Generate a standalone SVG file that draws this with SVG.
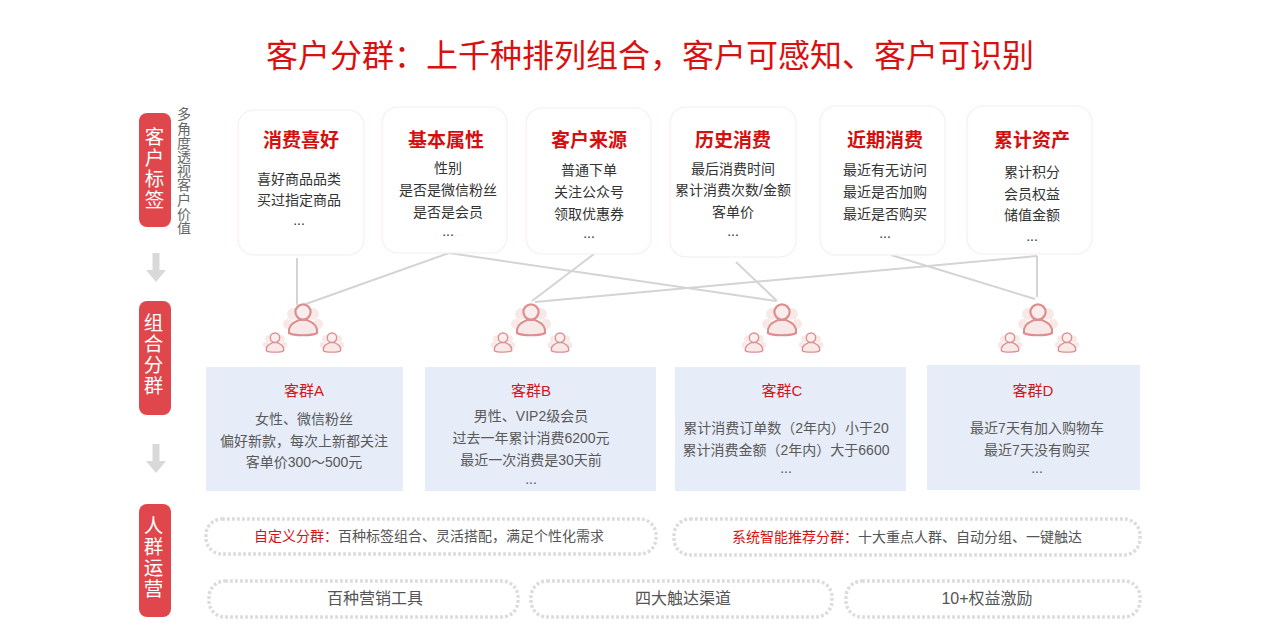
<svg xmlns="http://www.w3.org/2000/svg" width="1280" height="638" viewBox="0 0 1280 638">
<style>
text{font-family:"Liberation Sans","Noto Sans CJK SC",sans-serif;text-anchor:middle}
.title{font-size:32px;fill:#d9100f}
.side{font-size:19.5px;fill:#fff;writing-mode:vertical-rl;text-orientation:upright;letter-spacing:1.6px}
.note{font-size:14px;fill:#666;writing-mode:vertical-rl;text-orientation:upright;letter-spacing:.2px}
.card{fill:#fff;stroke:#f8eeee;stroke-width:1.2}
.head{font-size:19px;font-weight:700;fill:#d40f10}
.body{font-size:14px;fill:#333}
.seg{fill:#e6ecf8}
.segname{font-size:15px;fill:#d3171a}
.segbody{font-size:14px;fill:#595959}
.pill{fill:#fff;stroke:#dcdcdc;stroke-width:3.4;stroke-dasharray:2.8 2.2}
.pilltext{font-size:14px;fill:#555}
.pillbig{font-size:16px;fill:#555}
.red{fill:#d9100f}
.bar{fill:#e0474c}
.link{fill:none;stroke:#d4d4d4;stroke-width:2}
.arrow{fill:#d9d9d9}
</style>
<defs>
<g id="person">
<circle cx="-10" cy="-5" r="6" fill="#f8e9e9"/><circle cx="10" cy="-5" r="6" fill="#f8e9e9"/>
<circle cx="-15" cy="5" r="5" fill="#f8e9e9"/><circle cx="15" cy="5" r="5" fill="#f8e9e9"/>
<path d="M-14 14C-15 6-9 3-4 1H4C9 3 15 6 14 14C10 17-10 17-14 14Z" fill="#f8e8e8" stroke="#dc8f8f" stroke-width="2.2"/>
<circle cx="0" cy="-7" r="7.6" fill="#f9eded" stroke="#dc8f8f" stroke-width="2.2"/>
</g>
<g id="crowd">
<use href="#person"/>
<use href="#person" transform="translate(-28 23) scale(.62)"/>
<use href="#person" transform="translate(29 23) scale(.62)"/>
</g>
<path id="down" d="M-3.5 0H3.5V17H10L0 29L-10 17H-3.5Z"/>
</defs>

<text class="title" x="650" y="67">客户分群：上千种排列组合，客户可感知、客户可识别</text>

<g id="connectors">
<path class="link" d="M297 258V305"/>
<path class="link" d="M449 253L303 305"/>
<path class="link" d="M449 253L776 301"/>
<path class="link" d="M594 254L532 301"/>
<path class="link" d="M1037 256L535 302"/>
<path class="link" d="M736 262L777 301"/>
<path class="link" d="M891 255L1035 299"/>
<path class="link" d="M1037 256V297"/>
</g>

<g id="step-tags">
<rect class="bar" x="139" y="113" width="32" height="114" rx="8"/>
<text class="side" x="153" y="169">客户标签</text>
</g>
<g id="step-tags-note">
<text class="note" x="183" y="171">多角度透视客户价值</text>
</g>
<g id="step-group">
<rect class="bar" x="139" y="301" width="32" height="114" rx="8"/>
<text class="side" x="152" y="355">组合分群</text>
</g>
<g id="step-ops">
<rect class="bar" x="139" y="504" width="32" height="113" rx="8"/>
<text class="side" x="152" y="558">人群运营</text>
</g>
<g id="arrow-1"><use class="arrow" href="#down" x="156" y="253"/></g>
<g id="arrow-2"><use class="arrow" href="#down" x="156" y="444"/></g>

<g id="card-preference">
<rect class="card" x="238" y="110" width="126" height="145" rx="16"/>
<text class="head" x="301" y="147">消费喜好</text>
<text class="body" x="299" y="184">喜好商品品类</text><text class="body" x="299" y="205">买过指定商品</text><text class="body" x="299" y="225">...</text>
</g>
<g id="card-basic">
<rect class="card" x="382" y="107" width="125" height="146" rx="16"/>
<text class="head" x="446" y="147">基本属性</text>
<text class="body" x="448" y="173">性别</text><text class="body" x="448" y="195">是否是微信粉丝</text><text class="body" x="448" y="217">是否是会员</text><text class="body" x="448" y="236">...</text>
</g>
<g id="card-source">
<rect class="card" x="526" y="108" width="125" height="146" rx="16"/>
<text class="head" x="589" y="147">客户来源</text>
<text class="body" x="589" y="175">普通下单</text><text class="body" x="589" y="197">关注公众号</text><text class="body" x="589" y="219">领取优惠券</text><text class="body" x="589" y="238">...</text>
</g>
<g id="card-history">
<rect class="card" x="670" y="107" width="126" height="150" rx="16"/>
<text class="head" x="733" y="147">历史消费</text>
<text class="body" x="733" y="174">最后消费时间</text><text class="body" x="733" y="195">累计消费次数/金额</text><text class="body" x="733" y="217">客单价</text><text class="body" x="733" y="236">...</text>
</g>
<g id="card-recent">
<rect class="card" x="820" y="106" width="125" height="149" rx="16"/>
<text class="head" x="885" y="147">近期消费</text>
<text class="body" x="885" y="175">最近有无访问</text><text class="body" x="885" y="197">最近是否加购</text><text class="body" x="885" y="219">最近是否购买</text><text class="body" x="885" y="238">...</text>
</g>
<g id="card-assets">
<rect class="card" x="967" y="106" width="125" height="148" rx="16"/>
<text class="head" x="1032" y="147">累计资产</text>
<text class="body" x="1032" y="177">累计积分</text><text class="body" x="1032" y="199">会员权益</text><text class="body" x="1032" y="220">储值金额</text><text class="body" x="1032" y="241">...</text>
</g>

<g id="crowd-a"><use href="#crowd" x="303" y="319"/></g>
<g id="crowd-b"><use href="#crowd" x="531" y="319"/></g>
<g id="crowd-c"><use href="#crowd" x="782" y="319"/></g>
<g id="crowd-d"><use href="#crowd" x="1038" y="319"/></g>

<g id="segment-a">
<rect class="seg" x="206" y="367" width="197" height="124"/>
<text class="segname" x="304" y="396">客群A</text>
<text class="segbody" x="304" y="424">女性、微信粉丝</text><text class="segbody" x="304" y="446">偏好新款，每次上新都关注</text><text class="segbody" x="304" y="467">客单价300～500元</text>
</g>
<g id="segment-b">
<rect class="seg" x="425" y="367" width="231" height="124"/>
<text class="segname" x="531" y="396">客群B</text>
<text class="segbody" x="531" y="421">男性、VIP2级会员</text><text class="segbody" x="531" y="443">过去一年累计消费6200元</text><text class="segbody" x="531" y="465">最近一次消费是30天前</text><text class="segbody" x="531" y="484">...</text>
</g>
<g id="segment-c">
<rect class="seg" x="675" y="367" width="231" height="124"/>
<text class="segname" x="782" y="396">客群C</text>
<text class="segbody" x="786" y="433">累计消费订单数（2年内）小于20</text><text class="segbody" x="786" y="455">累计消费金额（2年内）大于6600</text><text class="segbody" x="786" y="473">...</text>
</g>
<g id="segment-d">
<rect class="seg" x="927" y="365" width="213" height="125"/>
<text class="segname" x="1033" y="396">客群D</text>
<text class="segbody" x="1037" y="433">最近7天有加入购物车</text><text class="segbody" x="1037" y="455">最近7天没有购买</text><text class="segbody" x="1037" y="473">...</text>
</g>

<g id="ops-custom">
<rect class="pill" x="206" y="519" width="450" height="35" rx="16"/>
<text class="pilltext" x="429" y="541"><tspan class="red">自定义分群：</tspan>百种标签组合、灵活搭配，满足个性化需求</text>
</g>
<g id="ops-smart">
<rect class="pill" x="674" y="519" width="466" height="36" rx="16"/>
<text class="pilltext" x="907" y="542"><tspan class="red">系统智能推荐分群：</tspan>十大重点人群、自动分组、一键触达</text>
</g>
<g id="ops-tools">
<rect class="pill" x="209" y="581" width="309" height="36" rx="16"/>
<text class="pillbig" x="375" y="604">百种营销工具</text>
</g>
<g id="ops-channels">
<rect class="pill" x="531" y="581" width="301" height="36" rx="16"/>
<text class="pillbig" x="683" y="604">四大触达渠道</text>
</g>
<g id="ops-benefits">
<rect class="pill" x="846" y="581" width="294" height="36" rx="16"/>
<text class="pillbig" x="987" y="604">10+权益激励</text>
</g>
</svg>
